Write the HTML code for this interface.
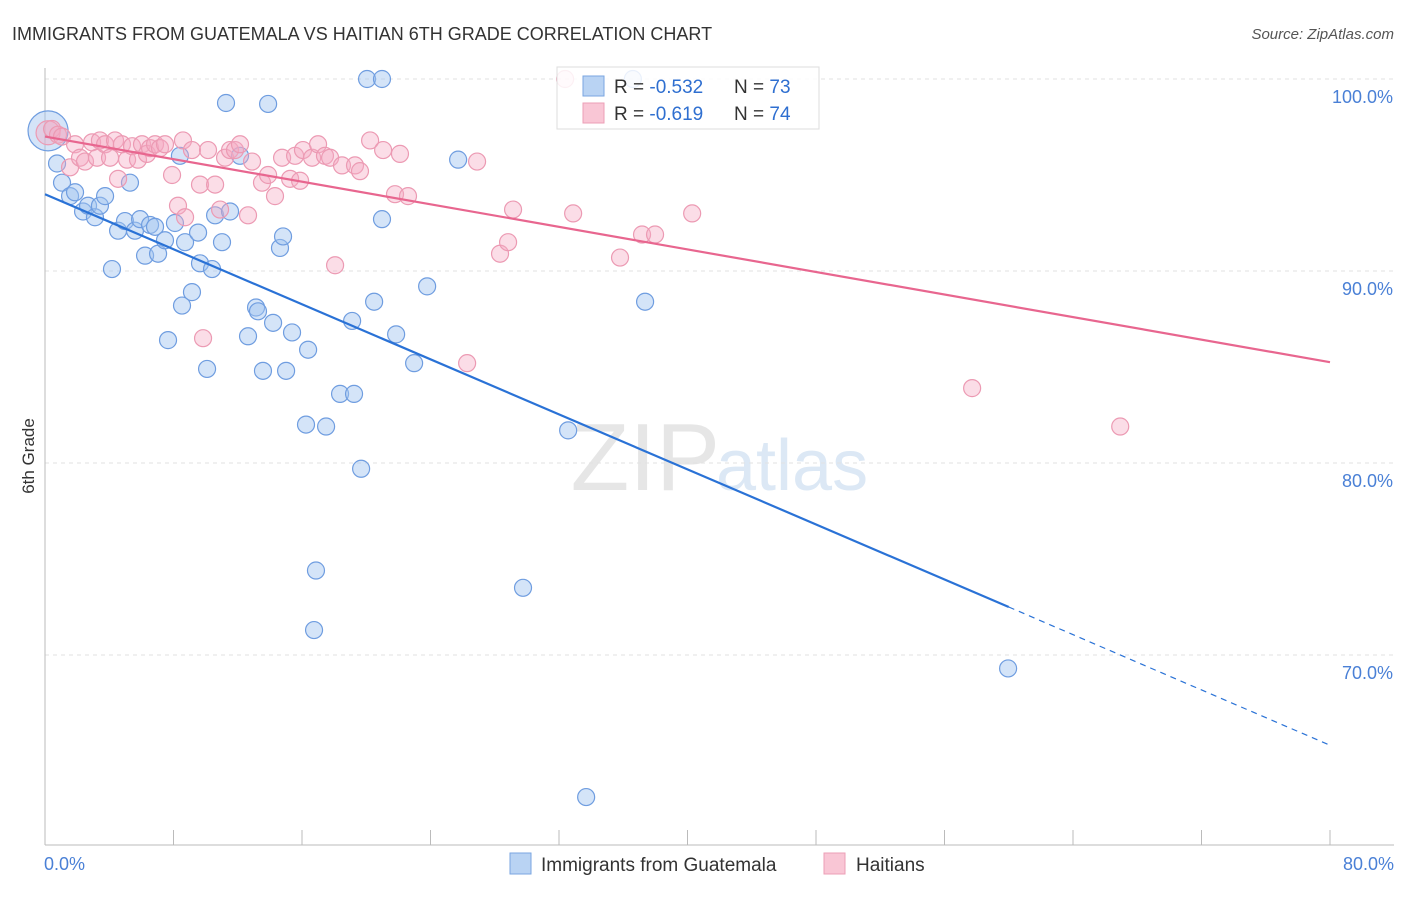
<!DOCTYPE html>
<html><head><meta charset="utf-8"><style>
body{margin:0;background:#fff;font-family:"Liberation Sans",sans-serif;}
svg text{font-family:"Liberation Sans",sans-serif;}
</style></head><body>
<svg id="chart" width="1406" height="892" xmlns="http://www.w3.org/2000/svg">
<text x="12" y="40" font-size="18" fill="#333">IMMIGRANTS FROM GUATEMALA VS HAITIAN 6TH GRADE CORRELATION CHART</text>
<text x="1394" y="39" font-size="15" fill="#555" text-anchor="end" font-style="italic">Source: ZipAtlas.com</text>
<text x="720" y="490" font-size="96" fill="#e6e6e6" text-anchor="end" font-family="Liberation Serif">ZIP</text>
<text x="716" y="490" font-size="72" fill="#dce8f5">atlas</text>
<g id="grid"></g>
<g id="axes"></g>
<g id="pts"></g>
<g id="lines"></g>
<text transform="translate(34,456) rotate(-90)" font-size="17" fill="#333" text-anchor="middle">6th Grade</text>
<g>
<rect x="557" y="67" width="262" height="62" fill="rgba(255,255,255,0.85)" stroke="#ddd"/>
<rect x="583" y="76" width="21" height="20" fill="#b9d3f3" stroke="#7aa6e0"/>
<rect x="583" y="103" width="21" height="20" fill="#f9c6d5" stroke="#ec9fb6"/>
<text x="614" y="93" font-size="19" fill="#333">R = <tspan fill="#2f6fd0">-0.532</tspan><tspan x="734">N = </tspan><tspan fill="#2f6fd0">73</tspan></text>
<text x="614" y="120" font-size="19" fill="#333">R = <tspan fill="#2f6fd0"> -0.619</tspan><tspan x="734">N = </tspan><tspan fill="#2f6fd0">74</tspan></text>
</g>
<g>
<rect x="510" y="853" width="21" height="21" fill="#b9d3f3" stroke="#7aa6e0"/>
<text x="541" y="871" font-size="19" fill="#333">Immigrants from Guatemala</text>
<rect x="824" y="853" width="21" height="21" fill="#f9c6d5" stroke="#ec9fb6"/>
<text x="856" y="871" font-size="19" fill="#333">Haitians</text>
</g>
</svg>
<script>
const xTickVals=[0,10,20,30,40,50,60,70,80];
const yTickVals=[70,80,90,100];
const yTickLabels=["70.0%","80.0%","90.0%","100.0%"];
const xEndLabels=["0.0%","80.0%"];
const blueX=[0.19,0.75,1.06,1.56,1.87,2.37,2.68,3.11,3.42,3.74,4.17,4.55,4.98,5.29,5.60,5.92,6.23,6.54,6.85,7.04,7.47,7.66,8.09,8.40,8.53,8.72,9.15,9.53,9.65,10.09,10.40,10.59,11.02,11.27,11.52,12.14,12.64,13.14,13.26,13.57,13.89,14.20,14.63,14.82,15.01,15.38,16.38,16.25,16.87,16.75,17.50,18.37,19.24,19.12,19.68,20.05,20.49,20.98,20.98,21.86,22.98,23.79,25.72,29.76,32.57,33.69,37.36,36.6,59.96];
const blueY=[97.3,95.6,94.6,93.9,94.1,93.1,93.4,92.8,93.4,93.9,90.1,92.1,92.6,94.6,92.1,92.7,90.8,92.4,92.3,90.9,91.6,86.4,92.5,96.0,88.2,91.5,88.9,92.0,90.4,84.9,90.1,92.9,91.5,98.75,93.1,96.0,86.6,88.1,87.9,84.8,98.7,87.3,91.2,91.8,84.8,86.8,85.9,82.0,74.4,71.3,81.9,83.6,83.6,87.4,79.7,100,88.4,100,92.7,86.7,85.2,89.2,95.8,73.5,81.7,62.6,88.4,100,69.3];
const pinkX=[0.19,0.44,0.81,1.06,1.56,1.87,2.18,2.49,2.93,3.24,3.42,3.74,4.05,4.36,4.55,4.79,5.11,5.42,5.79,6.04,6.35,6.54,6.85,7.16,7.47,7.91,8.28,8.59,8.72,9.15,9.65,9.84,10.15,10.59,10.90,11.21,11.52,11.83,12.14,12.64,12.89,13.51,13.89,14.32,14.76,15.26,15.57,15.88,16.06,16.63,17.00,17.43,17.75,18.06,18.49,19.30,19.61,20.24,21.05,21.79,22.10,22.60,26.28,26.90,28.33,28.83,29.14,32.88,35.80,37.17,37.98,40.29,57.72,66.94,32.38];
const pinkY=[97.2,97.4,97.1,97.0,95.4,96.6,95.9,95.7,96.7,95.9,96.8,96.6,95.9,96.8,94.8,96.6,95.8,96.5,95.8,96.6,96.1,96.4,96.6,96.4,96.6,95.0,93.4,96.8,92.8,96.3,94.5,86.5,96.3,94.5,93.2,95.9,96.3,96.3,96.6,92.9,95.7,94.6,95.0,93.9,95.9,94.8,96.0,94.7,96.3,95.9,96.6,96.0,95.9,90.3,95.5,95.5,95.2,96.8,96.3,94.0,96.1,93.9,85.2,95.7,90.9,91.5,93.2,93.0,90.7,91.9,91.9,93.0,83.9,81.9,100];
const blueTrend=[[0,94.0],[60,72.5],[80,65.3]];
const pinkTrend=[[0,97.0],[80,85.25]];
const NS="http://www.w3.org/2000/svg";
const X=v=>45+v/80*1285;
const Y=v=>79+(100-v)*19.2;
function mk(tag,parent,attrs){const e=document.createElementNS(NS,tag);for(const k in attrs)e.setAttribute(k,attrs[k]);document.getElementById(parent).appendChild(e);return e;}
yTickVals.forEach((v,i)=>{
 const l=mk('line','grid',{x1:45,x2:1394,y1:Y(v),y2:Y(v),stroke:'#e2e2e2','stroke-dasharray':'4,4'});
 
 
 const t=mk('text','axes',{x:1393,y:Y(v)+24,'font-size':18,fill:'#4a80d6','text-anchor':'end'});
 t.textContent=yTickLabels[i];
 
 
});
const ax=mk('line','axes',{x1:45,x2:45,y1:68,y2:845,stroke:'#bbb'});


const bx=mk('line','axes',{x1:45,x2:1394,y1:845,y2:845,stroke:'#bbb'});


for(let v=0;v<=80;v+=8*1.25/1.25*1){}
[0,10,20,30,40,50,60,70,80].forEach(()=>{});
for(let i=0;i<=10;i++){const v=i*8;
 const t=mk('line','axes',{x1:X(v),x2:X(v),y1:830,y2:845,stroke:'#bbb'});
 
 
}
[[0,'start',44],[80,'end',1394]].forEach((a,i)=>{
 const t=mk('text','axes',{x:a[2],y:870,'font-size':18,fill:'#4a80d6','text-anchor':a[1]});
 t.textContent=xEndLabels[i];
 
 
});
function pts(xs,ys,fill,stroke,name,big){
 xs.forEach((x,i)=>{
  const c=mk('circle','pts',{cx:X(x),cy:Y(ys[i]),r:(i===0?big:8.5),fill:fill,stroke:stroke,'stroke-width':1.2});
  
  
 });
}
pts(blueX,blueY,'rgba(160,196,240,0.45)','#6f9de0','guatemala-point',20);
pts(pinkX,pinkY,'rgba(245,170,195,0.4)','#ec9ab3','haitians-point',12);
const b1=mk('line','lines',{x1:X(blueTrend[0][0]),y1:Y(blueTrend[0][1]),x2:X(blueTrend[1][0]),y2:Y(blueTrend[1][1]),stroke:'#2a72d6','stroke-width':2.2});


const b2=mk('line','lines',{x1:X(blueTrend[1][0]),y1:Y(blueTrend[1][1]),x2:X(blueTrend[2][0]),y2:Y(blueTrend[2][1]),stroke:'#2a72d6','stroke-width':1.2,'stroke-dasharray':'6,5'});


const p1=mk('line','lines',{x1:X(pinkTrend[0][0]),y1:Y(pinkTrend[0][1]),x2:X(pinkTrend[1][0]),y2:Y(pinkTrend[1][1]),stroke:'#e8668f','stroke-width':2.2});


</script>
</body></html>
